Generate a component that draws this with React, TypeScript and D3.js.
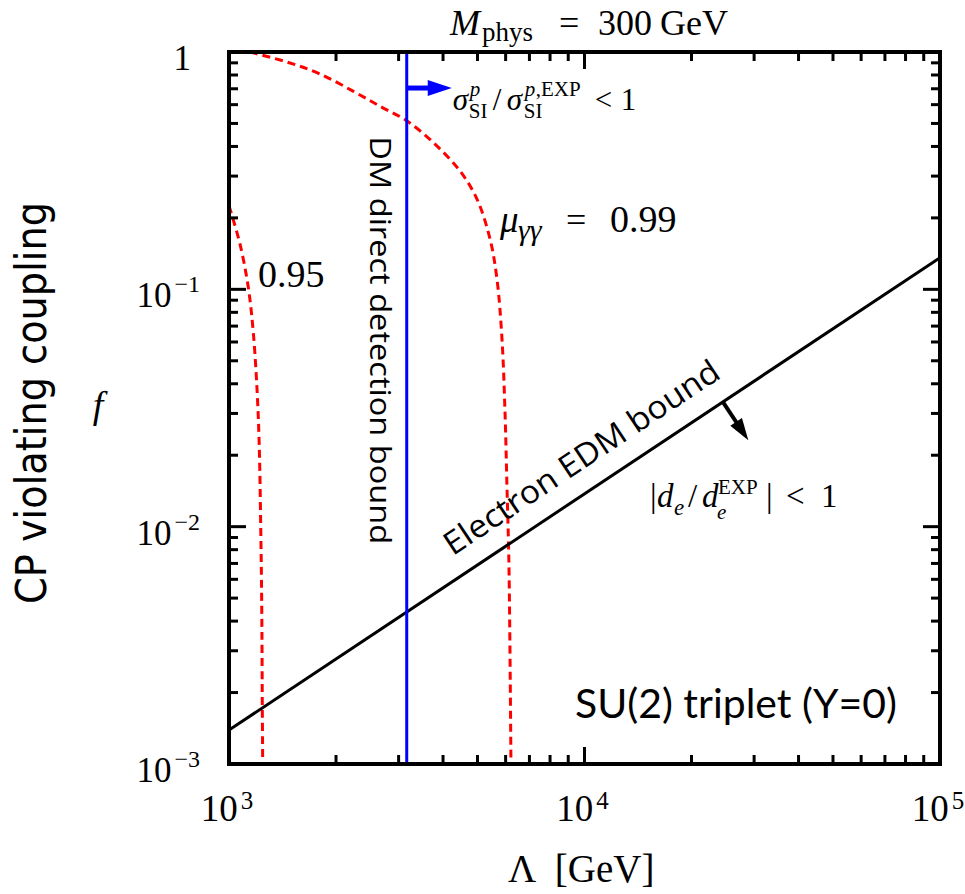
import React, { useEffect, useRef } from "react";
import * as d3 from "d3";

// axis ranges and tick labels
const xDomain = [1e3, 1e5];
const yDomain = [1e-3, 1];
const xTickExps = ["3", "4", "5"];
const xTickVals = [1e3, 1e4, 1e5];
const yTickExps = ["−3", "−2", "−1"];
const yTickVals = [1e-3, 1e-2, 1e-1];

// mu_gammagamma = 0.99 contour
const mu99Lambda = [1145, 1456, 1803, 2233, 2659, 3168, 3797, 4467, 4984, 5423, 5675, 5861, 5974, 6053, 6130, 6210];
const mu99F = [1.0, 0.907, 0.808, 0.684, 0.591, 0.512, 0.409, 0.315, 0.24, 0.163, 0.11, 0.0615, 0.0308, 0.0146, 0.0069, 0.001];

// mu_gammagamma = 0.95 contour
const mu95Lambda = [1000, 1074, 1133, 1171, 1201, 1217, 1228, 1236, 1241, 1244];
const mu95F = [0.225, 0.155, 0.102, 0.0652, 0.0361, 0.0213, 0.0101, 0.00477, 0.00167, 0.001];

// electron EDM bound (straight line on log-log)
const edmLambda = [1e3, 1e5];
const edmF = [1.39e-3, 0.136];

// DM direct detection bound
const ddLambda = [3162, 3162];
const ddF = [1e-3, 1];

const SERIF = "'Liberation Serif', 'DejaVu Serif', serif";
const SANS = "'Open Sans', 'DejaVu Sans', sans-serif";
const CALIBRI = "Lato, 'Open Sans', sans-serif";
const NARROW = "'Liberation Sans Narrow', 'DejaVu Sans Condensed', Roboto, sans-serif";

const W = 965;
const H = 894;
const margin = { left: 229, right: 25, top: 52, bottom: 130 };

type Piece = { t: string; dx: number; dy: number; size: number; italic?: boolean };

function mathText(g: any, x0: number, y0: number, pieces: Piece[]) {
  const t = g.append("text").attr("font-family", SERIF).attr("fill", "black");
  pieces.forEach((p) => {
    t.append("tspan")
      .attr("x", x0 + p.dx)
      .attr("y", y0 + p.dy)
      .attr("font-size", p.size)
      .attr("font-style", p.italic ? "italic" : "normal")
      .text(p.t);
  });
  return t;
}

export default function App() {
  const ref = useRef<SVGSVGElement>(null);

  useEffect(() => {
    const svg = d3.select(ref.current);
    svg.selectAll("*").remove();

    const x0 = margin.left;
    const x1 = W - margin.right;
    const y0 = margin.top;
    const y1 = H - margin.bottom;

    const x = d3.scaleLog().domain(xDomain).range([x0, x1]);
    const y = d3.scaleLog().domain(yDomain).range([y1, y0]);

    svg
      .append("defs")
      .append("clipPath")
      .attr("id", "plot-clip")
      .append("rect")
      .attr("x", x0)
      .attr("y", y0)
      .attr("width", x1 - x0)
      .attr("height", y1 - y0);

    const line = d3
      .line<[number, number]>()
      .x((d) => x(d[0]))
      .y((d) => y(d[1]));

    const plot = svg.append("g").attr("clip-path", "url(#plot-clip)");

    // red dashed mu contours
    [d3.zip(mu99Lambda, mu99F), d3.zip(mu95Lambda, mu95F)].forEach((pts) => {
      plot
        .append("path")
        .attr("d", line.curve(d3.curveCatmullRom.alpha(0.5))(pts as [number, number][]))
        .attr("fill", "none")
        .attr("stroke", "#ff0000")
        .attr("stroke-width", 3)
        .attr("stroke-dasharray", "8,5");
    });

    // EDM bound
    plot
      .append("path")
      .attr("d", line.curve(d3.curveLinear)(d3.zip(edmLambda, edmF) as [number, number][]))
      .attr("fill", "none")
      .attr("stroke", "black")
      .attr("stroke-width", 3);

    // DM direct detection
    plot
      .append("path")
      .attr("d", line.curve(d3.curveLinear)(d3.zip(ddLambda, ddF) as [number, number][]))
      .attr("fill", "none")
      .attr("stroke", "#0000ff")
      .attr("stroke-width", 3);

    // ticks, inward on all four sides
    const axes = svg.append("g").attr("stroke", "black").attr("stroke-width", 3);
    const isMajor = (v: number) => Math.abs(Math.log10(v) - Math.round(Math.log10(v))) < 1e-9;
    x.ticks().forEach((v) => {
      const len = isMajor(v) ? 17 : 9;
      axes.append("line").attr("x1", x(v)).attr("x2", x(v)).attr("y1", y1).attr("y2", y1 - len);
      axes.append("line").attr("x1", x(v)).attr("x2", x(v)).attr("y1", y0).attr("y2", y0 + len);
    });
    y.ticks().forEach((v) => {
      const len = isMajor(v) ? 17 : 9;
      axes.append("line").attr("y1", y(v)).attr("y2", y(v)).attr("x1", x0).attr("x2", x0 + len);
      axes.append("line").attr("y1", y(v)).attr("y2", y(v)).attr("x1", x1).attr("x2", x1 - len);
    });
    svg
      .append("rect")
      .attr("x", x0)
      .attr("y", y0)
      .attr("width", x1 - x0)
      .attr("height", y1 - y0)
      .attr("fill", "none")
      .attr("stroke", "black")
      .attr("stroke-width", 4);

    // x tick labels
    xTickVals.forEach((v, i) => {
      const t = svg
        .append("text")
        .attr("x", x(v) - 2)
        .attr("y", y1 + 57)
        .attr("text-anchor", "middle")
        .attr("font-family", SERIF)
        .attr("font-size", 37);
      t.append("tspan").text("10");
      t.append("tspan").attr("dy", -12).attr("dx", 3).attr("font-size", 25).text(xTickExps[i]);
    });

    // y tick labels
    yTickVals.forEach((v, i) => {
      const t = svg
        .append("text")
        .attr("x", x0 - 29)
        .attr("y", y(v) + 18)
        .attr("text-anchor", "end")
        .attr("font-family", SERIF)
        .attr("font-size", 35);
      t.append("tspan").text("10");
      t.append("tspan").attr("dy", -15).attr("dx", 3).attr("font-size", 24).text(yTickExps[i]);
    });
    svg
      .append("text")
      .attr("x", x0 - 38)
      .attr("y", y(1) + 18)
      .attr("text-anchor", "end")
      .attr("font-family", SERIF)
      .attr("font-size", 35)
      .text("1");

    // axis titles
    svg
      .append("text")
      .attr("x", 508)
      .attr("y", 882)
      .attr("font-family", SERIF)
      .attr("font-size", 39)
      .attr("xml:space", "preserve")
      .text("Λ  [GeV]");
    svg
      .append("text")
      .attr("transform", `translate(46,${(y0 + y1) / 2 - 5}) rotate(-90)`)
      .attr("text-anchor", "middle")
      .attr("font-family", NARROW)
      .attr("font-size", 42)
      .attr("textLength", 402)
      .attr("lengthAdjust", "spacingAndGlyphs")
      .text("CP violating coupling");
    svg
      .append("text")
      .attr("x", 98)
      .attr("y", 418)
      .attr("text-anchor", "middle")
      .attr("font-family", SERIF)
      .attr("font-style", "italic")
      .attr("font-size", 38)
      .text("f");

    // title
    mathText(svg, 450, 35, [
      { t: "M", dx: 0, dy: 0, size: 36, italic: true },
      { t: "phys", dx: 32, dy: 6, size: 27 },
      { t: "=", dx: 109, dy: 0, size: 36 },
      { t: "300", dx: 148, dy: 0, size: 36 },
      { t: "GeV", dx: 210, dy: 0, size: 36 },
    ]);

    // direct detection arrow and label
    const arrowY = y(0.705);
    const ax = x(ddLambda[0]);
    svg
      .append("line")
      .attr("x1", ax)
      .attr("x2", ax + 25)
      .attr("y1", arrowY)
      .attr("y2", arrowY)
      .attr("stroke", "#0000ff")
      .attr("stroke-width", 5);
    svg
      .append("path")
      .attr("d", `M${ax + 21},${arrowY - 8}L${ax + 45},${arrowY}L${ax + 21},${arrowY + 8}Z`)
      .attr("fill", "#0000ff");
    mathText(svg, ax + 46, arrowY + 22, [
      { t: "σ", dx: 0, dy: 0, size: 31, italic: true },
      { t: "p", dx: 17, dy: -14, size: 21, italic: true },
      { t: "SI", dx: 16, dy: 8, size: 21 },
      { t: "/", dx: 40, dy: 0, size: 31 },
      { t: "σ", dx: 54, dy: 0, size: 31, italic: true },
      { t: "p", dx: 72, dy: -14, size: 21, italic: true },
      { t: ",EXP", dx: 83, dy: -14, size: 21 },
      { t: "SI", dx: 71, dy: 8, size: 21 },
      { t: "<", dx: 142, dy: 0, size: 31 },
      { t: "1", dx: 168, dy: 0, size: 31 },
    ]);

    svg
      .append("text")
      .attr("transform", `translate(${ax - 37},${y(0.061)}) rotate(90)`)
      .attr("text-anchor", "middle")
      .attr("font-family", SANS)
      .attr("font-size", 30)
      .attr("textLength", 408)
      .attr("lengthAdjust", "spacingAndGlyphs")
      .text("DM direct detection bound");

    // EDM label and arrow
    const slope = Math.log(edmF[1] / edmF[0]) / Math.log(edmLambda[1] / edmLambda[0]);
    const edmAt = (L: number) => edmF[0] * Math.pow(L / edmLambda[0], slope);
    const ang =
      (Math.atan2(y(edmF[1]) - y(edmF[0]), x(edmLambda[1]) - x(edmLambda[0])) * 180) / Math.PI;
    const labL = 1.1e4;
    svg
      .append("text")
      .attr("transform", `translate(${x(labL)},${y(edmAt(labL))}) rotate(${ang})`)
      .attr("x", 0)
      .attr("y", -21)
      .attr("text-anchor", "middle")
      .attr("font-family", SANS)
      .attr("font-size", 32)
      .attr("textLength", 324)
      .attr("lengthAdjust", "spacingAndGlyphs")
      .text("Electron EDM bound");

    const arL = 2.45e4;
    const px = x(arL);
    const py = y(edmAt(arL));
    const rad = (ang * Math.PI) / 180;
    const nx = -Math.sin(rad);
    const ny = Math.cos(rad);
    const tx = -ny;
    const ty = nx;
    svg
      .append("line")
      .attr("x1", px)
      .attr("y1", py)
      .attr("x2", px + nx * 28)
      .attr("y2", py + ny * 28)
      .attr("stroke", "black")
      .attr("stroke-width", 4);
    const hx = px + nx * 24;
    const hy = py + ny * 24;
    svg
      .append("path")
      .attr(
        "d",
        `M${hx + tx * 7},${hy + ty * 7}L${px + nx * 46},${py + ny * 46}L${hx - tx * 7},${hy - ty * 7}Z`
      )
      .attr("fill", "black");

    mathText(svg, 650, 507, [
      { t: "|", dx: 0, dy: 0, size: 33 },
      { t: "d", dx: 7, dy: 0, size: 33, italic: true },
      { t: "e", dx: 24, dy: 8, size: 23, italic: true },
      { t: "/", dx: 38, dy: 0, size: 33 },
      { t: "d", dx: 52, dy: 0, size: 33, italic: true },
      { t: "EXP", dx: 68, dy: -13, size: 21 },
      { t: "e", dx: 67, dy: 12, size: 21, italic: true },
      { t: "|", dx: 116, dy: 0, size: 33 },
      { t: "<", dx: 136, dy: 0, size: 33 },
      { t: "1", dx: 171, dy: 0, size: 33 },
    ]);

    // contour labels
    mathText(svg, 500, 232, [
      { t: "μ", dx: 0, dy: 0, size: 37, italic: true },
      { t: "γγ", dx: 18, dy: 8, size: 30, italic: true },
      { t: "=", dx: 66, dy: 0, size: 36 },
      { t: "0.99", dx: 110, dy: 0, size: 38 },
    ]);
    mathText(svg, 258, 287, [{ t: "0.95", dx: 0, dy: 0, size: 38 }]);

    svg
      .append("text")
      .attr("x", 575)
      .attr("y", 718)
      .attr("font-family", CALIBRI)
      .attr("font-size", 40)
      .attr("textLength", 322)
      .attr("lengthAdjust", "spacingAndGlyphs")
      .text("SU(2) triplet (Y=0)");
  }, []);

  return (
    <div style={{ position: "absolute", left: 0, top: 0 }}>
      <svg ref={ref} width={W} height={H} style={{ display: "block", background: "white" }} />
    </div>
  );
}
